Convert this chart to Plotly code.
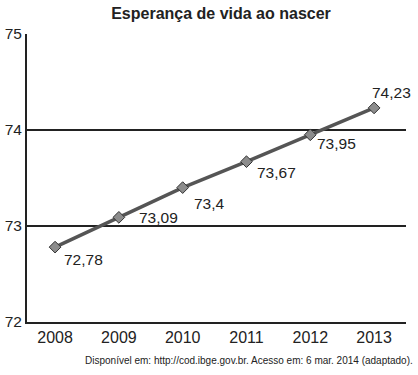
import plotly.graph_objects as go

years = ["2008", "2009", "2010", "2011", "2012", "2013"]
values = [72.78, 73.09, 73.40, 73.67, 73.95, 74.23]
labels = ["72,78", "73,09", "73,4", "73,67", "73,95", "74,23"]
y_ticks = [72, 73, 74, 75]

xs = list(range(len(years)))
FONT = "Liberation Sans, Arial, sans-serif"
W, H = 418, 375

fig = go.Figure()
fig.add_trace(go.Scatter(
    x=xs, y=values, mode="lines+markers",
    line=dict(color="#555555", width=3.5),
    marker=dict(symbol="diamond", size=9, color="#8c8c8c",
                line=dict(color="#333333", width=1)),
    hoverinfo="skip",
))

# label offsets (pixels): (xanchor, yanchor, xshift, yshift)
offs = [("left", "middle", 7, -12), ("left", "middle", 18, 0),
        ("left", "middle", 9, -16), ("left", "middle", 9, -11),
        ("left", "middle", 5, -9), ("center", "middle", 17, 15)]
for x, y, t, (xa, ya, dx, dy) in zip(xs, values, labels, offs):
    fig.add_annotation(x=x, y=y, text=t, showarrow=False,
                       xanchor=xa, yanchor=ya, xshift=dx, yshift=dy,
                       font=dict(family=FONT, size=15.5, color="#222222"))

fig.add_annotation(xref="paper", yref="paper", x=(415 - 27) / 379, y=-0.135,
                   text="Disponível em: http://cod.ibge.gov.br. Acesso em: 6 mar. 2014 (adaptado).",
                   showarrow=False, xanchor="right", yanchor="middle",
                   font=dict(family=FONT, size=10, color="#222222"))

fig.update_layout(
    width=W, height=H,
    margin=dict(l=27, r=12, t=34, b=53),
    paper_bgcolor="white", plot_bgcolor="white",
    showlegend=False,
    title=dict(text="<b>Esperança de vida ao nascer</b>", x=221 / W, xref="container",
               xanchor="center", y=1 - 13 / H, yanchor="middle",
               font=dict(family=FONT, size=16, color="#222222")),
    font=dict(family=FONT, color="#222222"),
    xaxis=dict(range=[-0.44, 5.5], tickvals=xs, ticktext=years, showgrid=False,
               zeroline=False, showline=True, linecolor="#222222", linewidth=2,
               ticks="", fixedrange=True,
               tickfont=dict(size=16), automargin=False),
    yaxis=dict(range=[72, 75], tickvals=y_ticks, ticktext=[str(v) for v in y_ticks],
               showgrid=True, gridcolor="#222222", gridwidth=1.5,
               zeroline=False, showline=True, linecolor="#222222", linewidth=2,
               ticks="", tickfont=dict(size=15.5), fixedrange=True, automargin=False),
)

fig.write_html("out.html", config={"displayModeBar": False},
               post_script="document.body.style.margin='0';")
